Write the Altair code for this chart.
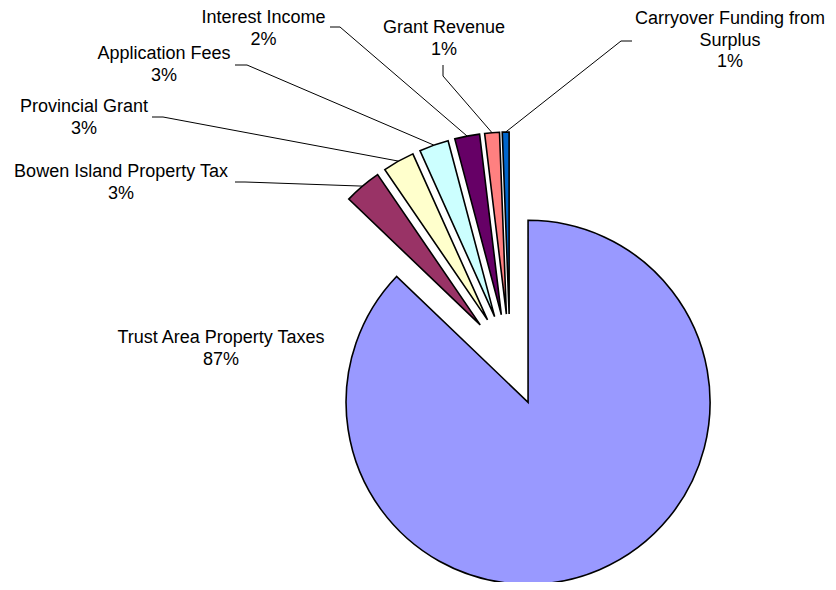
import altair as alt
import pandas as pd

# ---- data ----
categories = [
    "Trust Area Property Taxes",
    "Bowen Island Property Tax",
    "Provincial Grant",
    "Application Fees",
    "Interest Income",
    "Grant Revenue",
    "Carryover Funding from Surplus",
]
label_names = [
    "Trust Area Property Taxes",
    "Bowen Island Property Tax",
    "Provincial Grant",
    "Application Fees",
    "Interest Income",
    "Grant Revenue",
    "Carryover Funding from\nSurplus",
]
values = [86.8, 3.3, 2.8, 2.6, 2.2, 1.3, 0.6]
colors = ["#9999FF", "#993366", "#FFFFCC", "#CCFFFF", "#660066", "#FF8080", "#0066CC"]

# ---- layout (pixels inside the plot area) ----
W, H = 820, 574
CX, CY = 502, 352      # pie centre
EXPLODE = 46           # explosion distance of every slice
R = 182                # pie radius

# centre of the first text line of each label
label_x = [213, 113, 76, 156, 255.5, 436, 722]
label_y = [330, 164, 99, 46, 10, 20, 11]
# leader line: attach point next to label, then elbow, then slice edge (computed)
lead_x1 = [None, 227, 144, 227, 322, 435, 624]
lead_y1 = [None, 174, 109, 57, 19, 57, 33]
lead_x2 = [None, 237, 155, 239, 332, 435, 613]
lead_y2 = [None, 174, 109, 57, 19, 68, 33]

df = pd.DataFrame({
    "category": categories,
    "label": label_names,
    "value": values,
    "order": list(range(len(categories))),
    "lx": label_x,
    "ly": label_y,
    "e1x": lead_x1,
    "e1y": lead_y1,
    "e2x": lead_x2,
    "e2y": lead_y2,
})

base = (
    alt.Chart(df)
    .transform_joinaggregate(total="sum(value)")
    .transform_window(cum="sum(value)", sort=[alt.SortField("order")], frame=[None, 0])
    .transform_calculate(a0="2*PI*(datum.cum - datum.value)/datum.total")
    .transform_calculate(a1="2*PI*datum.cum/datum.total")
    .transform_calculate(mid="(datum.a0 + datum.a1)/2")
    .transform_calculate(cx=f"{CX} + {EXPLODE}*sin(datum.mid)")
    .transform_calculate(cy=f"{CY} - {EXPLODE}*cos(datum.mid)")
    .transform_calculate(ax=f"{CX} + {EXPLODE + R}*sin(datum.mid)")
    .transform_calculate(ay=f"{CY} - {EXPLODE + R}*cos(datum.mid)")
    .transform_calculate(pct="format(datum.value/datum.total, '.0%')")
    .transform_calculate(txt="datum.label + '\\n' + datum.pct")
)

slices = base.mark_arc(radius=R, stroke="black", strokeWidth=1.6).encode(
    x=alt.X("cx:Q", scale=None, axis=None),
    y=alt.Y("cy:Q", scale=None, axis=None),
    theta=alt.Theta("a0:Q", scale=None),
    theta2="a1:Q",
    color=alt.Color("category:N", scale=alt.Scale(domain=categories, range=colors), legend=None),
)

leaders = (
    base.transform_filter("isValid(datum.e1x)")
    .transform_fold(["e1x", "e2x", "ax"], as_=["key", "kv"])
    .transform_calculate(
        px="datum.key == 'e1x' ? datum.e1x : (datum.key == 'e2x' ? datum.e2x : datum.ax)"
    )
    .transform_calculate(
        py="datum.key == 'e1x' ? datum.e1y : (datum.key == 'e2x' ? datum.e2y : datum.ay)"
    )
    .transform_calculate(step="datum.key == 'e1x' ? 0 : (datum.key == 'e2x' ? 1 : 2)")
    .mark_line(color="black", strokeWidth=1)
    .encode(
        x=alt.X("px:Q", scale=None, axis=None),
        y=alt.Y("py:Q", scale=None, axis=None),
        detail="category:N",
        order="step:Q",
    )
)

labels = base.mark_text(
    font="Liberation Sans",
    fontSize=18,
    lineBreak="\n",
    lineHeight=21.5,
    align="center",
    baseline="middle",
    color="black",
).encode(
    x=alt.X("lx:Q", scale=None, axis=None),
    y=alt.Y("ly:Q", scale=None, axis=None),
    text="txt:N",
)

chart = (
    alt.layer(slices, leaders, labels)
    .properties(width=W, height=H, padding=0, autosize="none", background="white")
    .configure_view(stroke=None)
)

chart.save("out.html", embed_options={"renderer": "svg", "actions": False})
